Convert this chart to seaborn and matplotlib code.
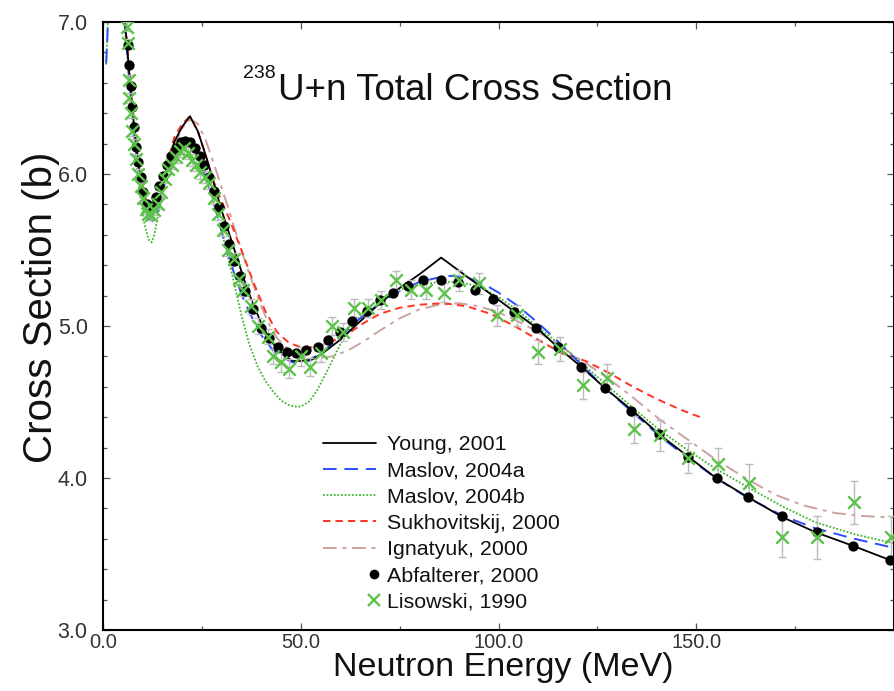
import numpy as np
import matplotlib
matplotlib.use("Agg")
import matplotlib.pyplot as plt
import seaborn as sns
from matplotlib.lines import Line2D
from matplotlib.legend_handler import HandlerLine2D
from matplotlib.ticker import MultipleLocator, FormatStrFormatter

# ---------------- data ----------------
young_E = [3.0, 4.5, 5.5, 6.5, 7.5, 8.5, 9.5, 10.5, 11.5, 12.5, 13.5, 14.5, 16.0, 18.0, 20.0, 22.0, 24.0, 26.0, 28.0, 30.0,
           32.0, 34.0, 36.0, 38.0, 40.0, 42.0, 44.0, 46.0, 48.0, 50.0, 53.0, 56.0, 60.0, 65.0, 70.0, 75.0, 80.0, 85.5, 110.0, 115.0,
           121.0, 127.0, 134.0, 141.0, 148.0, 155.0, 163.0, 172.0, 180.0, 190.0, 200.0]
young_S = [7.9, 7.35, 7.02, 6.71, 6.41, 6.16, 5.97, 5.84, 5.76, 5.74, 5.77, 5.84, 6.02, 6.21, 6.31, 6.38, 6.28, 6.12, 5.94, 5.76,
           5.60, 5.44, 5.28, 5.14, 5.02, 4.92, 4.85, 4.80, 4.77, 4.77, 4.78, 4.83, 4.91, 5.03, 5.15, 5.25, 5.34, 5.45, 4.98, 4.86,
           4.73, 4.59, 4.44, 4.28, 4.14, 4.00, 3.875, 3.74, 3.645, 3.55, 3.45]

maslov_a_E = [0.8, 1.1, 1.4, 2.0, 3.0, 4.5, 5.5, 6.5, 7.5, 8.5, 9.5, 10.5, 11.5, 12.5, 13.5, 14.5, 16.0, 18.0, 20.0, 21.5,
              23.0, 25.0, 27.0, 29.0, 31.0, 33.0, 35.0, 37.0, 40.0, 43.0, 45.0, 48.0, 52.0, 56.0, 60.0, 65.0, 70.0, 75.0, 80.0, 85.0,
              88.0, 92.0, 96.0, 100.0, 105.0, 110.0, 115.0, 120.0, 127.0, 134.0, 141.0, 148.0, 155.0, 163.0, 172.0, 180.0, 190.0, 200.0]
maslov_a_S = [6.73, 6.90, 7.10, 7.6, 7.9, 7.3, 6.98, 6.66, 6.36, 6.11, 5.92, 5.79, 5.71, 5.69, 5.73, 5.81, 5.98, 6.13, 6.20, 6.21,
              6.17, 6.05, 5.90, 5.72, 5.53, 5.36, 5.21, 5.09, 4.94, 4.84, 4.80, 4.76, 4.77, 4.84, 4.93, 5.05, 5.15, 5.23, 5.29, 5.32,
              5.33, 5.32, 5.28, 5.22, 5.13, 5.02, 4.90, 4.77, 4.59, 4.43, 4.27, 4.13, 4.00, 3.87, 3.75, 3.67, 3.60, 3.54]

maslov_b_E = [0.8, 1.1, 1.4, 2.0, 3.0, 4.5, 5.5, 6.5, 7.5, 8.5, 9.5, 10.5, 11.5, 12.3, 13.0, 14.0, 15.0, 16.5, 18.0, 20.0,
              21.5, 23.0, 25.0, 27.0, 29.0, 31.0, 33.0, 35.0, 37.0, 39.0, 41.0, 43.0, 45.0, 47.0, 48.5, 50.0, 52.0, 54.0, 57.0, 60.0,
              63.0, 66.0, 70.0, 75.0, 80.0, 85.0, 90.0, 95.0, 100.0, 105.0, 110.0, 115.0, 120.0, 127.0, 134.0, 141.0, 148.0, 155.0, 163.0, 172.0,
              180.0, 190.0, 200.0]
maslov_b_S = [6.72, 6.92, 7.12, 7.6, 7.9, 7.3, 6.98, 6.64, 6.32, 6.05, 5.84, 5.67, 5.57, 5.55, 5.60, 5.74, 5.88, 6.03, 6.13, 6.20,
              6.21, 6.17, 6.04, 5.90, 5.72, 5.52, 5.30, 5.07, 4.88, 4.74, 4.64, 4.57, 4.51, 4.48, 4.47, 4.47, 4.50, 4.57, 4.72, 4.88,
              5.00, 5.10, 5.18, 5.24, 5.27, 5.29, 5.29, 5.26, 5.19, 5.10, 4.99, 4.89, 4.78, 4.62, 4.46, 4.31, 4.18, 4.06, 3.94, 3.81,
              3.71, 3.63, 3.57]

sukh_E = [3.0, 4.5, 5.5, 6.5, 7.5, 8.5, 9.5, 10.5, 11.5, 12.5, 13.5, 14.5, 16.0, 18.0, 20.0, 22.0, 24.0, 26.0, 28.0, 30.0,
          32.0, 35.0, 38.0, 41.0, 44.0, 47.0, 50.0, 54.0, 58.0, 62.0, 66.0, 70.0, 75.0, 80.0, 86.0, 92.0, 98.0, 104.0, 110.0, 116.0,
          122.0, 128.0, 134.0, 140.0, 146.0, 151.0]
sukh_S = [7.9, 7.38, 7.05, 6.73, 6.43, 6.18, 5.99, 5.86, 5.78, 5.76, 5.79, 5.86, 6.04, 6.24, 6.33, 6.38, 6.28, 6.12, 5.95, 5.82,
          5.70, 5.50, 5.29, 5.10, 4.96, 4.89, 4.86, 4.86, 4.90, 4.95, 5.02, 5.08, 5.12, 5.14, 5.15, 5.13, 5.08, 5.00, 4.91, 4.82,
          4.77, 4.69, 4.60, 4.52, 4.45, 4.40]

ign_E = [18.0, 20.0, 22.0, 24.0, 26.0, 28.0, 30.0, 32.0, 34.0, 36.0, 38.0, 40.0, 42.0, 44.0, 47.0, 50.0, 54.0, 58.0, 62.0, 66.0,
         70.0, 75.0, 80.0, 85.0, 90.0, 95.0, 100.0, 105.0, 110.0, 115.0, 120.0, 127.0, 134.0, 141.0, 148.0, 155.0, 163.0, 170.0, 177.0, 185.0,
         192.0, 200.0]
ign_S = [6.18, 6.30, 6.36, 6.33, 6.22, 6.07, 5.91, 5.75, 5.58, 5.42, 5.27, 5.13, 5.01, 4.92, 4.84, 4.80, 4.79, 4.80, 4.84, 4.90,
         4.97, 5.05, 5.11, 5.14, 5.15, 5.13, 5.09, 5.03, 4.96, 4.88, 4.79, 4.67, 4.53, 4.38, 4.25, 4.12, 3.99, 3.89, 3.82, 3.77,
         3.75, 3.74]

abf_E = [6.2, 6.6, 7.0, 7.4, 7.8, 8.4, 8.9, 9.5, 10.2, 11.0, 11.8, 12.6, 13.4, 14.2, 15.2, 16.2, 17.2, 18.4, 19.6, 20.8,
         22.0, 23.2, 24.4, 25.6, 26.8, 28.0, 29.3, 30.6, 31.9, 33.2, 34.6, 36.0, 38.0, 39.9, 41.9, 44.2, 46.4, 48.8, 51.3, 54.3,
         57.0, 60.0, 63.0, 66.8, 70.0, 73.4, 77.0, 81.0, 85.5, 89.8, 94.0, 98.7, 104.0, 109.4, 115.0, 120.8, 127.0, 133.5, 140.6, 148.0,
         155.3, 163.2, 171.6, 180.5, 189.6, 199.0]
abf_S = [6.85, 6.72, 6.58, 6.44, 6.31, 6.18, 6.08, 5.98, 5.88, 5.80, 5.77, 5.79, 5.85, 5.92, 5.99, 6.06, 6.12, 6.17, 6.21, 6.22,
         6.21, 6.17, 6.12, 6.06, 5.98, 5.89, 5.78, 5.66, 5.54, 5.43, 5.33, 5.23, 5.11, 4.99, 4.92, 4.86, 4.83, 4.82, 4.84, 4.86,
         4.91, 4.96, 5.03, 5.10, 5.17, 5.22, 5.26, 5.30, 5.30, 5.29, 5.24, 5.18, 5.09, 4.99, 4.86, 4.73, 4.59, 4.44, 4.29, 4.14,
         4.00, 3.875, 3.75, 3.645, 3.55, 3.46]

lis_E = [6.0, 6.2, 6.5, 6.7, 7.0, 7.4, 7.9, 8.4, 8.9, 9.5, 10.1, 10.8, 11.5, 12.2, 13.0, 13.8, 14.7, 15.6, 16.5, 17.5,
         18.5, 19.5, 20.5, 21.5, 22.5, 23.5, 24.6, 25.7, 26.8, 28.0, 29.2, 30.4, 31.7, 33.0, 34.3, 35.5, 37.3, 39.3, 41.6, 43.1,
         45.0, 47.0, 50.0, 52.3, 55.0, 57.8, 60.7, 63.5, 67.0, 70.3, 74.0, 78.0, 81.7, 86.2, 90.0, 95.0, 99.7, 104.8, 110.0, 115.5,
         121.3, 127.5, 134.2, 140.8, 148.0, 155.6, 163.4, 171.8, 180.5, 189.8, 199.2]
lis_S = [6.97, 6.86, 6.62, 6.50, 6.40, 6.28, 6.20, 6.10, 6.00, 5.92, 5.84, 5.77, 5.74, 5.73, 5.76, 5.80, 5.88, 5.97, 6.03, 6.06,
         6.11, 6.15, 6.17, 6.14, 6.09, 6.06, 6.01, 5.98, 5.94, 5.84, 5.74, 5.63, 5.50, 5.44, 5.31, 5.24, 5.13, 5.00, 4.93, 4.80,
         4.76, 4.72, 4.80, 4.73, 4.82, 5.00, 4.96, 5.12, 5.12, 5.17, 5.30, 5.24, 5.24, 5.22, 5.30, 5.28, 5.07, 5.07, 4.83, 4.85,
         4.61, 4.66, 4.32, 4.28, 4.13, 4.09, 3.97, 3.61, 3.61, 3.84, 3.61]
lis_err = [0.03, 0.03, 0.03, 0.03, 0.03, 0.03, 0.03, 0.03, 0.03, 0.03, 0.03, 0.03, 0.03, 0.03, 0.03, 0.03, 0.03, 0.03, 0.03, 0.03,
           0.04, 0.04, 0.04, 0.04, 0.04, 0.04, 0.04, 0.04, 0.04, 0.04, 0.04, 0.04, 0.04, 0.04, 0.04, 0.04, 0.05, 0.05, 0.05, 0.05,
           0.06, 0.06, 0.06, 0.06, 0.06, 0.06, 0.06, 0.06, 0.06, 0.06, 0.06, 0.06, 0.06, 0.06, 0.07, 0.07, 0.07, 0.07, 0.08, 0.08,
           0.09, 0.09, 0.09, 0.10, 0.10, 0.11, 0.12, 0.13, 0.14, 0.14, 0.14]

labels = ["Young, 2001", "Maslov, 2004a", "Maslov, 2004b", "Sukhovitskij, 2000",
          "Ignatyuk, 2000", "Abfalterer, 2000", "Lisowski, 1990"]
x_ticks = [0, 50, 100, 150]
y_ticks = [3.0, 4.0, 5.0, 6.0, 7.0]

# ---------------- style ----------------
sns.set_style("ticks")
plt.rcParams['font.family'] = ['Liberation Sans', 'DejaVu Sans']

C_BLACK = 'black'
C_BLUE = '#2f4dff'
C_GREEN = '#3fb52e'
C_RED = '#ff3322'
C_BROWN = '#c9a3a0'
C_X = '#5cc24a'
C_ERR = '#bcbcbc'

fig = plt.figure(figsize=(8.94, 6.91), dpi=100)
ax = fig.add_axes([103 / 894, 61 / 691, 791 / 894, 608 / 691])

lw = 1.4
sns.lineplot(x=ign_E, y=ign_S, ax=ax, color=C_BROWN, lw=lw, linestyle=(0, (7, 3, 2, 3)),
             estimator=None, sort=False, zorder=2)
sns.lineplot(x=sukh_E, y=sukh_S, ax=ax, color=C_RED, lw=lw, linestyle=(0, (3.8, 2.6)),
             estimator=None, sort=False, zorder=2)
sns.lineplot(x=maslov_b_E, y=maslov_b_S, ax=ax, color=C_GREEN, lw=1.3, linestyle=(0, (1.0, 1.0)),
             estimator=None, sort=False, zorder=2)
sns.lineplot(x=maslov_a_E, y=maslov_a_S, ax=ax, color=C_BLUE, lw=lw, linestyle=(0, (7, 4)),
             estimator=None, sort=False, zorder=2)
sns.lineplot(x=young_E, y=young_S, ax=ax, color=C_BLACK, lw=1.3,
             estimator=None, sort=False, zorder=3)

ax.errorbar(lis_E, lis_S, yerr=lis_err, fmt='none', ecolor=C_ERR, elinewidth=1.0,
            capsize=3, capthick=1.0, zorder=4)
sns.scatterplot(x=abf_E, y=abf_S, ax=ax, color='black', s=55, marker='o',
                edgecolor='black', linewidth=0, zorder=5)
sns.scatterplot(x=lis_E, y=lis_S, ax=ax, color=C_X, s=80, marker='x',
                linewidth=1.7, zorder=6)

ax.set_xlim(0, 200)
ax.set_ylim(3.0, 7.0)
ax.set_xticks(x_ticks)
ax.set_yticks(y_ticks)
ax.xaxis.set_major_formatter(FormatStrFormatter('%.1f'))
ax.yaxis.set_major_formatter(FormatStrFormatter('%.1f'))
ax.xaxis.set_minor_locator(MultipleLocator(25))
ax.yaxis.set_minor_locator(MultipleLocator(0.2))
ax.tick_params(which='both', direction='in', top=True, right=True, width=0.9, color='#555555')
ax.tick_params(which='major', length=5)
ax.tick_params(which='minor', length=3)
ax.tick_params(axis='x', which='major', pad=2, labelsize=14.5, labelcolor='#333333')
ax.tick_params(axis='y', which='major', pad=11, labelsize=15.5, labelcolor='#333333')
for sp in ax.spines.values():
    sp.set_linewidth(1.5)
    sp.set_color('black')

ax.set_xlabel("Neutron Energy (MeV)", fontsize=24.5, color='#111111')
ax.set_ylabel("Cross Section (b)", fontsize=29, color='#111111')
ax.xaxis.set_label_coords(0.506, -0.036)
ax.yaxis.set_label_coords(-0.054, 0.53)

ax.text(0.177, 0.908, "238", transform=ax.transAxes, fontsize=14, ha='left', va='baseline', color='#111111')
ax.text(0.221, 0.872, "U+n Total Cross Section", transform=ax.transAxes, fontsize=26.5,
        ha='left', va='baseline', color='#111111')


class RightMarker(HandlerLine2D):
    def get_xdata(self, legend, xdescent, ydescent, width, height, fontsize):
        x = -xdescent + width - 0.12 * fontsize
        return np.array([x, x]), np.array([x])


handles = [
    Line2D([], [], color=C_BLACK, lw=1.3),
    Line2D([], [], color=C_BLUE, lw=lw, linestyle=(0, (7, 4))),
    Line2D([], [], color=C_GREEN, lw=1.3, linestyle=(0, (1.0, 1.0))),
    Line2D([], [], color=C_RED, lw=lw, linestyle=(0, (3.8, 2.6))),
    Line2D([], [], color=C_BROWN, lw=lw, linestyle=(0, (7, 3, 2, 3))),
    Line2D([], [], color='black', marker='o', markersize=6, linestyle='none'),
    Line2D([], [], color=C_X, marker='x', markersize=8, markeredgewidth=1.7, linestyle='none'),
]
hmap = {handles[5]: RightMarker(), handles[6]: RightMarker()}
leg = ax.legend(handles, labels, handler_map=hmap, loc='upper left',
                bbox_to_anchor=((323 - 103) / 791, (630 - 435) / 608),
                frameon=False, fontsize=15.4, handlelength=2.5, handletextpad=0.5,
                labelspacing=0.34, borderpad=0, borderaxespad=0, numpoints=1)
for t in leg.get_texts():
    t.set_color('#111111')

fig.savefig("out.png", dpi=100)
